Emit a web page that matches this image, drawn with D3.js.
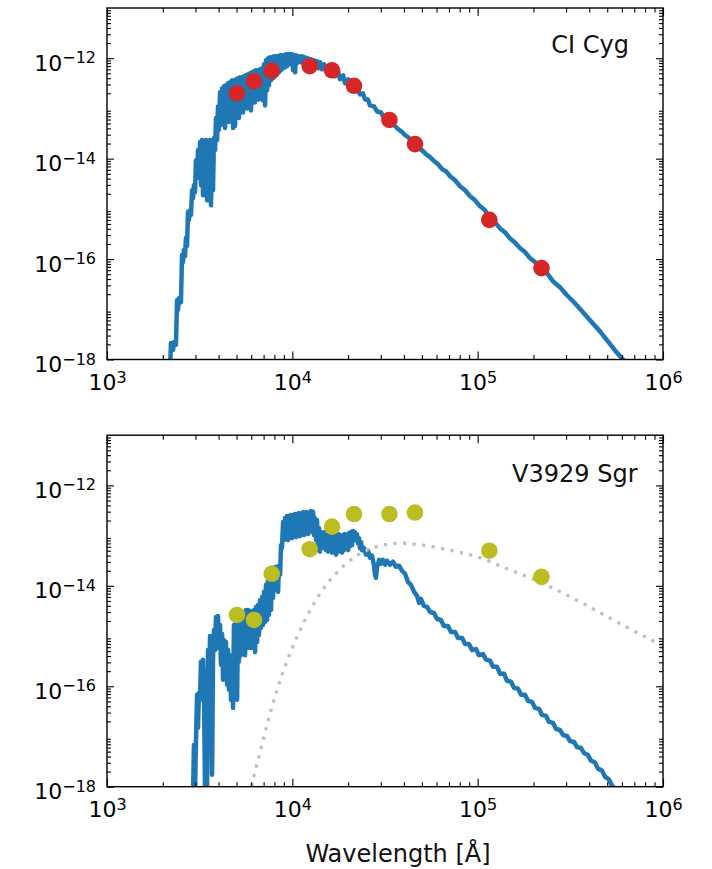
<!DOCTYPE html>
<html><head><meta charset="utf-8">
<script src="https://cdn.jsdelivr.net/npm/d3@7"></script>
<style>
body{margin:0;background:#fff;}
svg{display:block;font-family:"DejaVu Sans",sans-serif;}
</style>
</head><body>
<svg id="chart" width="712" height="869"></svg>
<script>
// ---------------- data ----------------
const xTickExps = [3, 4, 5, 6];
const yTickExps = [-18, -16, -14, -12];
const panelLabels = ["CI Cyg", "V3929 Sgr"];
const xAxisLabel = "Wavelength [Å]";

// photometry (wavelength in Å, flux)
const photWavelength = [5030, 6210, 7740, 12410, 16370, 21520, 33400, 45900, 115600, 221000];
const ciCygFlux = [2.0e-13, 3.47e-13, 5.62e-13, 6.92e-13, 5.75e-13, 2.82e-13, 5.89e-14, 1.95e-14, 6.03e-16, 6.61e-17];
const v3929Flux = [2.63e-15, 2.09e-15, 1.74e-14, 5.37e-14, 1.51e-13, 2.69e-13, 2.69e-13, 2.88e-13, 5.01e-14, 1.51e-14];

// model spectra: [log10 wavelength (Å), log10 flux]
const ciCygSpectrum = [
[3.340,-18.25],[3.345,-17.67],[3.356,-17.81],[3.362,-17.65],[3.372,-17.71],[3.378,-16.82],[3.383,-17.01],[3.388,-16.78],
[3.399,-16.86],[3.405,-15.92],[3.410,-16.06],[3.415,-15.82],[3.421,-15.94],[3.426,-15.58],[3.432,-15.74],[3.437,-15.06],
[3.442,-15.22],[3.448,-15.03],[3.453,-15.12],[3.459,-14.63],[3.464,-14.79],[3.469,-14.53],[3.475,-14.67],[3.480,-14.03],
[3.486,-14.39],[3.491,-13.83],[3.496,-14.23],[3.502,-13.67],[3.507,-14.53],[3.513,-13.63],[3.518,-14.73],[3.523,-13.69],
[3.529,-14.43],[3.534,-13.63],[3.540,-14.83],[3.545,-13.73],[3.550,-14.33],[3.556,-13.63],[3.561,-14.93],[3.567,-13.83],
[3.572,-14.63],[3.577,-13.59],[3.583,-13.83],[3.588,-13.19],[3.594,-13.63],[3.599,-12.96],[3.604,-13.43],[3.610,-12.68],
[3.615,-13.33],[3.621,-12.60],[3.626,-13.19],[3.631,-12.56],[3.637,-13.39],[3.642,-12.54],[3.648,-13.13],[3.653,-12.50],
[3.658,-13.27],[3.664,-12.48],[3.669,-13.19],[3.675,-12.44],[3.680,-13.39],[3.685,-12.46],[3.691,-13.35],[3.696,-12.42],
[3.702,-13.13],[3.707,-12.40],[3.712,-13.19],[3.718,-12.38],[3.723,-13.00],[3.729,-12.38],[3.734,-13.08],[3.739,-12.36],
[3.745,-12.92],[3.750,-12.34],[3.756,-13.00],[3.761,-12.32],[3.766,-12.84],[3.772,-12.30],[3.777,-13.04],[3.783,-12.28],
[3.788,-12.80],[3.793,-12.26],[3.799,-12.88],[3.804,-12.24],[3.810,-12.76],[3.815,-12.24],[3.820,-12.82],[3.826,-12.22],
[3.831,-12.74],[3.837,-12.20],[3.842,-12.84],[3.847,-12.12],[3.853,-12.94],[3.858,-12.04],[3.864,-12.64],[3.869,-12.00],
[3.874,-12.54],[3.880,-11.98],[3.885,-12.44],[3.891,-11.98],[3.896,-12.40],[3.901,-11.96],[3.907,-12.36],[3.912,-11.96],
[3.918,-12.32],[3.923,-11.96],[3.928,-12.28],[3.934,-11.94],[3.939,-12.24],[3.944,-11.94],[3.950,-12.20],[3.955,-11.94],
[3.961,-12.18],[3.966,-11.92],[3.971,-12.16],[3.977,-11.92],[3.982,-12.12],[3.988,-11.92],[3.993,-12.10],[3.998,-11.92],
[4.004,-12.24],[4.009,-11.94],[4.015,-12.28],[4.020,-11.94],[4.025,-12.10],[4.036,-11.96],[4.041,-12.08],[4.052,-11.96],
[4.058,-12.10],[4.068,-11.98],[4.074,-12.10],[4.085,-12.00],[4.090,-12.14],[4.101,-12.02],[4.106,-12.16],[4.117,-12.04],
[4.122,-12.18],[4.133,-12.06],[4.139,-12.20],[4.149,-12.08],[4.160,-12.22],[4.171,-12.12],[4.182,-12.26],[4.193,-12.16],
[4.203,-12.30],[4.220,-12.20],[4.230,-12.36],[4.247,-12.26],[4.257,-12.42],[4.274,-12.34],[4.284,-12.50],[4.301,-12.42],
[4.311,-12.56],[4.327,-12.52],[4.338,-12.64],[4.354,-12.62],[4.365,-12.72],[4.381,-12.70],[4.392,-12.82],[4.408,-12.82],
[4.419,-12.94],[4.441,-12.96],[4.457,-13.06],[4.479,-13.08],[4.495,-13.19],[4.516,-13.21],[4.532,-13.29],[4.554,-13.35],
[4.570,-13.41],[4.592,-13.47],[4.608,-13.53],[4.630,-13.59],[4.646,-13.67],[4.667,-13.71],[4.684,-13.79],[4.705,-13.85],
[4.721,-13.91],[4.743,-13.97],[4.765,-14.05],[4.786,-14.11],[4.808,-14.21],[4.829,-14.25],[4.851,-14.35],[4.878,-14.43],
[4.905,-14.55],[4.932,-14.63],[4.959,-14.75],[4.986,-14.83],[5.013,-14.95],[5.040,-15.03],[5.067,-15.19],[5.094,-15.27],
[5.121,-15.39],[5.148,-15.47],[5.175,-15.59],[5.201,-15.67],[5.228,-15.78],[5.255,-15.86],[5.282,-15.98],[5.309,-16.06],
[5.342,-16.18],[5.374,-16.28],[5.406,-16.44],[5.444,-16.56],[5.482,-16.72],[5.525,-16.88],[5.568,-17.06],[5.611,-17.24],
[5.660,-17.44],[5.703,-17.64],[5.741,-17.82],[5.784,-18.00],[5.822,-18.18]
];

const v3929Spectrum = [
[3.464,-18.26],[3.469,-17.17],[3.475,-18.06],[3.480,-17.11],[3.486,-16.17],[3.491,-16.83],[3.496,-16.13],[3.502,-16.27],
[3.507,-15.51],[3.513,-16.17],[3.518,-15.47],[3.523,-16.07],[3.529,-18.06],[3.534,-15.87],[3.540,-18.06],[3.545,-15.28],
[3.550,-16.27],[3.556,-15.00],[3.561,-15.87],[3.567,-17.76],[3.572,-15.47],[3.577,-14.88],[3.583,-15.28],[3.588,-14.62],
[3.594,-15.24],[3.599,-14.60],[3.604,-15.18],[3.610,-14.78],[3.615,-15.57],[3.621,-14.96],[3.626,-15.87],[3.631,-15.08],
[3.637,-15.71],[3.642,-15.12],[3.648,-15.97],[3.653,-15.28],[3.658,-16.07],[3.664,-15.38],[3.669,-16.27],[3.675,-15.47],
[3.680,-16.43],[3.685,-14.78],[3.691,-16.07],[3.696,-14.64],[3.702,-16.27],[3.707,-14.58],[3.712,-15.51],[3.718,-14.52],
[3.723,-15.38],[3.729,-14.52],[3.734,-15.28],[3.739,-14.52],[3.745,-15.38],[3.750,-14.48],[3.756,-15.24],[3.761,-14.48],
[3.766,-15.18],[3.772,-14.50],[3.777,-15.24],[3.783,-14.52],[3.788,-15.18],[3.793,-14.48],[3.799,-15.32],[3.804,-14.42],
[3.810,-15.12],[3.815,-14.38],[3.820,-14.98],[3.826,-14.28],[3.831,-14.84],[3.837,-14.22],[3.842,-14.78],[3.847,-14.12],
[3.853,-14.72],[3.858,-13.98],[3.864,-14.68],[3.869,-13.88],[3.874,-14.58],[3.880,-13.76],[3.885,-14.48],[3.891,-13.64],
[3.896,-14.24],[3.901,-13.64],[3.907,-14.08],[3.912,-13.62],[3.918,-14.04],[3.923,-14.12],[3.928,-13.60],[3.934,-13.78],
[3.939,-13.19],[3.944,-13.25],[3.950,-12.73],[3.955,-13.09],[3.961,-12.65],[3.966,-13.05],[3.971,-12.61],[3.977,-13.09],
[3.982,-12.61],[3.988,-13.01],[3.993,-12.59],[3.998,-13.05],[4.004,-12.59],[4.009,-12.99],[4.015,-12.57],[4.020,-13.03],
[4.025,-12.57],[4.031,-12.97],[4.036,-12.55],[4.041,-13.01],[4.047,-12.57],[4.052,-12.95],[4.058,-12.53],[4.063,-12.99],
[4.068,-12.55],[4.074,-12.95],[4.079,-12.53],[4.085,-12.97],[4.090,-12.55],[4.095,-12.93],[4.101,-12.51],[4.106,-12.89],
[4.112,-12.53],[4.117,-12.99],[4.122,-12.65],[4.128,-13.09],[4.133,-12.69],[4.139,-13.29],[4.144,-12.85],[4.149,-13.32],
[4.155,-12.93],[4.160,-13.19],[4.166,-12.95],[4.171,-13.25],[4.176,-12.93],[4.182,-13.29],[4.187,-12.97],[4.193,-13.32],
[4.198,-12.95],[4.203,-13.25],[4.209,-12.99],[4.214,-13.34],[4.220,-12.97],[4.225,-13.29],[4.230,-13.01],[4.236,-13.38],
[4.241,-12.99],[4.247,-13.32],[4.252,-12.97],[4.257,-13.29],[4.263,-13.01],[4.268,-13.34],[4.274,-12.99],[4.279,-13.29],
[4.284,-12.97],[4.290,-13.25],[4.295,-12.99],[4.301,-13.29],[4.306,-12.95],[4.311,-13.21],[4.317,-12.93],[4.322,-13.19],
[4.327,-12.91],[4.333,-13.09],[4.338,-12.93],[4.344,-13.05],[4.349,-12.97],[4.354,-13.15],[4.360,-13.05],[4.365,-13.25],
[4.371,-13.13],[4.376,-13.29],[4.387,-13.25],[4.397,-13.38],[4.408,-13.30],[4.419,-13.44],[4.430,-13.40],[4.441,-13.60],
[4.446,-13.78],[4.451,-13.84],[4.457,-13.64],[4.468,-13.48],[4.478,-13.56],[4.489,-13.48],[4.500,-13.58],[4.511,-13.50],
[4.527,-13.58],[4.543,-13.52],[4.559,-13.62],[4.576,-13.60],[4.592,-13.70],[4.608,-13.76],[4.624,-13.92],[4.640,-13.98],
[4.657,-14.12],[4.673,-14.20],[4.684,-14.34],[4.694,-14.26],[4.710,-14.40],[4.727,-14.42],[4.743,-14.52],[4.764,-14.54],
[4.781,-14.66],[4.802,-14.68],[4.818,-14.80],[4.840,-14.80],[4.856,-14.92],[4.878,-14.92],[4.894,-15.04],[4.916,-15.04],
[4.932,-15.16],[4.953,-15.16],[4.970,-15.28],[4.991,-15.26],[5.007,-15.38],[5.029,-15.36],[5.045,-15.47],[5.067,-15.49],
[5.083,-15.61],[5.104,-15.61],[5.121,-15.75],[5.142,-15.75],[5.158,-15.89],[5.180,-15.91],[5.196,-16.03],[5.218,-16.05],
[5.234,-16.17],[5.255,-16.17],[5.272,-16.29],[5.293,-16.31],[5.309,-16.43],[5.331,-16.45],[5.347,-16.57],[5.369,-16.59],
[5.385,-16.71],[5.407,-16.73],[5.423,-16.85],[5.444,-16.87],[5.460,-16.97],[5.482,-16.99],[5.498,-17.09],[5.520,-17.11],
[5.536,-17.21],[5.558,-17.23],[5.574,-17.33],[5.595,-17.37],[5.611,-17.48],[5.633,-17.52],[5.649,-17.64],[5.671,-17.68],
[5.687,-17.80],[5.709,-17.86],[5.725,-17.98],[5.746,-18.06],[5.768,-18.22]
];

// dust blackbody (dotted): [log10 wavelength (Å), log10 flux]
const dustBlackbody = [
[3.750,-18.36],[3.781,-17.96],[3.808,-17.56],[3.835,-17.19],[3.862,-16.79],[3.889,-16.43],[3.916,-16.09],[3.943,-15.79],
[3.970,-15.51],[3.997,-15.26],[4.024,-15.02],[4.051,-14.81],[4.078,-14.61],[4.105,-14.43],[4.132,-14.26],[4.185,-13.97],
[4.239,-13.74],[4.293,-13.55],[4.347,-13.40],[4.401,-13.29],[4.489,-13.19],[4.597,-13.15],[4.705,-13.19],[4.851,-13.29],
[5.013,-13.44],[5.158,-13.66],[5.299,-13.87],[5.390,-14.02],[5.568,-14.35],[5.752,-14.72],[6.000,-15.20]
];

// ---------------- drawing ----------------
const svg = d3.select("#chart");
const plotLeft = 107, plotRight = 663;
const TICK_FONT = 22, SUP_FONT = 16, ANNOT_FONT = 24;
const x = d3.scaleLog().domain([1e3, 1e6]).range([plotLeft, plotRight]);

const panels = [
  {top: 8, bottom: 359.5, label: panelLabels[0], labelX: 629, labelY: 53,
   spectrum: ciCygSpectrum, flux: ciCygFlux, color: "#d62728", model: null},
  {top: 435.2, bottom: 786.7, label: panelLabels[1], labelX: 637.5, labelY: 481.5,
   spectrum: v3929Spectrum, flux: v3929Flux, color: "#bcbd22", model: dustBlackbody}
];

const xMajor = xTickExps.map(e => Math.pow(10, e));
const xMinor = [];
for (let e = xTickExps[0]; e < xTickExps[xTickExps.length - 1]; e++)
  for (let m = 2; m <= 9; m++) xMinor.push(m * Math.pow(10, e));
const yMajor = yTickExps.map(e => Math.pow(10, e));
const yMinor = [];
for (let e = -18; e < -11; e++)
  for (let m = 2; m <= 9; m++) yMinor.push(m * Math.pow(10, e));

function styleAxis(g) {
  g.select(".domain").remove();
  g.selectAll(".tick line").attr("stroke", "#000").attr("stroke-width", 1.1);
}
function supLabel(sel, expFn) {
  sel.each(function(d) {
    const t = d3.select(this);
    t.text(null);
    t.append("tspan").text("10");
    t.append("tspan").attr("dy", -7.5).attr("font-size", SUP_FONT)
      .text(String(expFn(d)).replace("-", "\u2212"));
  });
}

panels.forEach((p, i) => {
  const y = d3.scaleLog().domain([1e-18, 1e-11]).range([p.bottom, p.top]);
  const clipId = "clip" + i;
  svg.append("clipPath").attr("id", clipId).append("rect")
    .attr("x", plotLeft).attr("y", p.top)
    .attr("width", plotRight - plotLeft).attr("height", p.bottom - p.top);

  const dataG = svg.append("g").attr("clip-path", `url(#${clipId})`);
  const line = d3.line().x(d => x(Math.pow(10, d[0]))).y(d => y(Math.pow(10, d[1])));
  dataG.append("path").datum(p.spectrum).attr("d", line)
    .attr("fill", "none").attr("stroke", "#1f77b4").attr("stroke-width", 4.5)
    .attr("stroke-linejoin", "round");
  if (p.model) {
    const smooth = d3.line().curve(d3.curveMonotoneX)
      .x(d => x(Math.pow(10, d[0]))).y(d => y(Math.pow(10, d[1])));
    dataG.append("path").datum(p.model).attr("d", smooth)
      .attr("fill", "none").attr("stroke", "#c0c0c0").attr("stroke-width", 3.3)
      .attr("stroke-dasharray", "3.3,6.3");
  }
  dataG.selectAll("circle.phot").data(photWavelength).join("circle")
    .attr("class", "phot")
    .attr("cx", d => x(d)).attr("cy", (d, j) => y(p.flux[j]))
    .attr("r", 8.3).attr("fill", p.color);

  // axes (ticks inward on all four sides)
  const bottomG = svg.append("g").attr("transform", `translate(0,${p.bottom})`);
  bottomG.call(d3.axisBottom(x).tickValues(xMinor).tickSizeInner(-4.5).tickSizeOuter(0).tickFormat(""));
  styleAxis(bottomG);
  const bottomMaj = svg.append("g").attr("transform", `translate(0,${p.bottom})`);
  bottomMaj.call(d3.axisBottom(x).tickValues(xMajor).tickSizeInner(-8).tickSizeOuter(0));
  styleAxis(bottomMaj);
  bottomMaj.attr("font-size", TICK_FONT).attr("font-family", "DejaVu Sans");
  bottomMaj.selectAll(".tick text").attr("y", 30.5).attr("dy", null).attr("fill", "#000")
    .call(supLabel, d => Math.round(Math.log10(d)));

  const topG = svg.append("g").attr("transform", `translate(0,${p.top})`);
  topG.call(d3.axisTop(x).tickValues(xMinor).tickSizeInner(-4.5).tickSizeOuter(0).tickFormat(""));
  styleAxis(topG);
  const topMaj = svg.append("g").attr("transform", `translate(0,${p.top})`);
  topMaj.call(d3.axisTop(x).tickValues(xMajor).tickSizeInner(-8).tickSizeOuter(0).tickFormat(""));
  styleAxis(topMaj);

  const leftG = svg.append("g").attr("transform", `translate(${plotLeft},0)`);
  leftG.call(d3.axisLeft(y).tickValues(yMinor).tickSizeInner(-4).tickSizeOuter(0).tickFormat(""));
  styleAxis(leftG);
  const leftMaj = svg.append("g").attr("transform", `translate(${plotLeft},0)`);
  leftMaj.call(d3.axisLeft(y).tickValues(yMajor).tickSizeInner(-7).tickSizeOuter(0));
  styleAxis(leftMaj);
  leftMaj.attr("font-size", TICK_FONT).attr("font-family", "DejaVu Sans");
  leftMaj.selectAll(".tick text").attr("x", -11).attr("dy", null).attr("y", 12)
    .attr("text-anchor", "end").attr("fill", "#000")
    .call(supLabel, d => Math.round(Math.log10(d)));

  const rightG = svg.append("g").attr("transform", `translate(${plotRight},0)`);
  rightG.call(d3.axisRight(y).tickValues(yMinor).tickSizeInner(-4).tickSizeOuter(0).tickFormat(""));
  styleAxis(rightG);
  const rightMaj = svg.append("g").attr("transform", `translate(${plotRight},0)`);
  rightMaj.call(d3.axisRight(y).tickValues(yMajor).tickSizeInner(-7).tickSizeOuter(0).tickFormat(""));
  styleAxis(rightMaj);

  // frame
  svg.append("rect").attr("x", plotLeft).attr("y", p.top)
    .attr("width", plotRight - plotLeft).attr("height", p.bottom - p.top)
    .attr("fill", "none").attr("stroke", "#000").attr("stroke-width", 1.4);

  // annotation
  svg.append("text").attr("x", p.labelX).attr("y", p.labelY)
    .attr("text-anchor", "end").attr("font-size", ANNOT_FONT).attr("fill", "#111")
    .text(p.label);
});

svg.append("text").attr("x", 398).attr("y", 862).attr("text-anchor", "middle")
  .attr("font-size", 24).attr("fill", "#111").text(xAxisLabel);
</script>
</body></html>
